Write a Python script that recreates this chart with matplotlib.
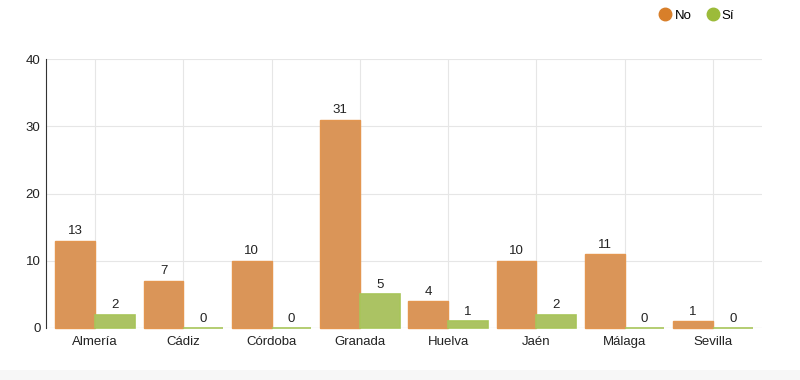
import numpy as np
import matplotlib.pyplot as plt
from matplotlib.patches import Rectangle
from matplotlib.lines import Line2D

plt.rcParams['font.family'] = ['Liberation Sans', 'DejaVu Sans']

provincias = ['Almería', 'Cádiz', 'Córdoba', 'Granada', 'Huelva', 'Jaén', 'Málaga', 'Sevilla']
valores_no = [13, 7, 10, 31, 4, 10, 11, 1]
valores_si = [2, 0, 0, 5, 1, 2, 0, 0]
series = ['No', 'Sí']

color_no = '#d87f2a'
color_si = '#9cbb3a'

fig = plt.figure(figsize=(8, 3.8), dpi=100)
# light band at the bottom of the image
fig.patches.append(Rectangle((0, 0), 1, 10 / 380, transform=fig.transFigure,
                             facecolor='#f7f7f7', edgecolor='none', zorder=0))

ax = fig.add_axes([46 / 800, 1 - 328 / 380, 716 / 800, 269 / 380])

x = np.arange(len(provincias))
w = 0.45

bars_no = ax.bar(x - w / 2, valores_no, width=w, color='#da9558',
                 edgecolor='#e39650', linewidth=1, zorder=3)
bars_si = ax.bar(x + w / 2, valores_si, width=w, color='#abc363',
                 edgecolor='#a8c55a', linewidth=1.2, zorder=3)
for b in list(bars_no) + list(bars_si):
    b.set_clip_on(False)

# value labels above each bar
for bars, vals in [(bars_no, valores_no), (bars_si, valores_si)]:
    for b, v in zip(bars, vals):
        ax.annotate(str(v), (b.get_x() + b.get_width() / 2, v),
                    xytext=(0, 2.5), textcoords='offset points',
                    ha='center', va='bottom', fontsize=9.5, color='#222222')

ax.set_xlim(-0.557, len(provincias) - 0.443)
ax.set_ylim(0, 40)
ax.set_yticks([0, 10, 20, 30, 40])
ax.set_xticks(x)
ax.set_xticklabels(provincias)
ax.tick_params(axis='both', length=0, labelsize=9.5, colors='#222222')
ax.tick_params(axis='y', pad=4)
ax.tick_params(axis='x', pad=6)

ax.grid(True, color='#e6e6e6', linewidth=0.8, zorder=0)
ax.set_axisbelow(True)
for side in ['top', 'right', 'bottom']:
    ax.spines[side].set_visible(False)
ax.spines['left'].set_color('#333333')
ax.spines['left'].set_linewidth(0.8)
ax.axhline(0, color='#e6e6e6', linewidth=0.8, zorder=1)

handles = [Line2D([], [], marker='o', linestyle='none', markersize=9,
                  markerfacecolor=c, markeredgecolor=c)
           for c in [color_no, color_si]]
fig.legend(handles, series, loc='center', bbox_to_anchor=(696 / 800, 1 - 16 / 380),
           ncol=2, frameon=False, fontsize=9.5, handletextpad=0.1,
           columnspacing=1.0, handlelength=1.2)

fig.savefig('out.png', dpi=100)
